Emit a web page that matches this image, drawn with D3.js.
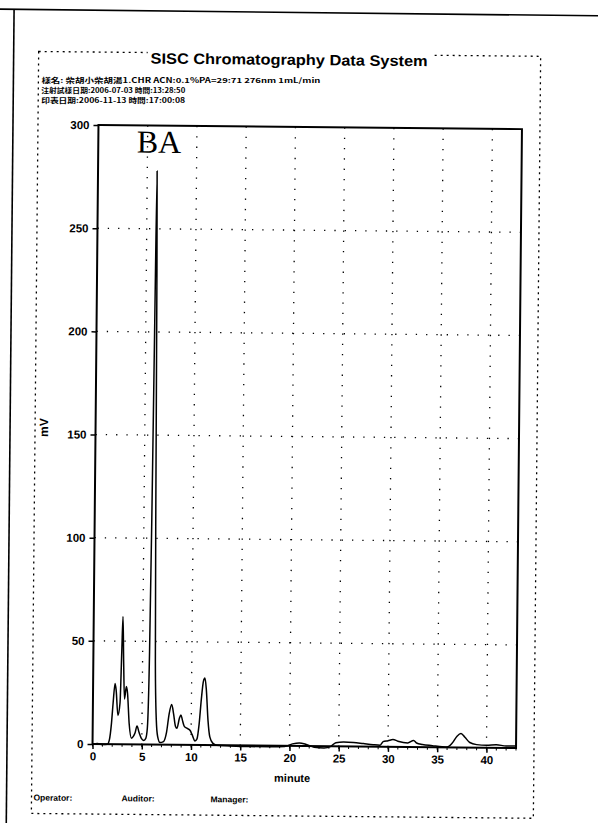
<!DOCTYPE html>
<html><head><meta charset="utf-8">
<script src="https://cdn.jsdelivr.net/npm/d3@7"></script>
<style>html,body{margin:0;padding:0;background:#fff}svg{display:block}</style>
</head><body>
<script>
const times = [0,0.5,1.0,1.5,1.7,1.9,2.05,2.23,2.35,2.55,2.75,2.88,2.97,3.08,3.2,3.38,3.5,3.7,3.95,4.15,4.3,4.5,4.7,4.95,5.2,5.4,5.55,5.7,5.8,5.9,6.0,6.1,6.2,6.3,6.45,6.6,6.85,7.2,7.5,7.75,8.0,8.2,8.4,8.55,8.8,8.95,9.1,9.3,9.6,9.9,10.1,10.4,10.6,10.8,11.0,11.2,11.35,11.5,11.7,11.9,12.2,12.6,14,16,18,19.5,20.3,21,21.7,22.5,23.5,24.2,24.7,25.5,26.5,27.5,28.5,29.2,29.5,30.0,30.5,31.0,32.0,32.6,32.9,33.5,34.5,35.5,36.0,36.5,37.0,37.4,37.8,38.3,39,40,41,42,43];
const values = [0,0.3,-0.2,0,2,10,20,29.5,26,14,20,45,62,40,22,28,25,10,3,4,5.5,9,6,3,2,3,8,45,110,200,278,210,110,40,12,4,1,1.5,6,15,19.5,15,9,8,13,14.5,12,9,8,7,5,2,3,10,22,31,32.5,27,12,4,1,0,-0.3,-0.5,-0.5,-0.3,1,1.5,0.8,-0.5,-0.8,0,1.8,2.2,2,1.5,1,0.8,2.5,3,3.6,2.8,2,3.2,2,1.3,0.8,0.3,0.2,2,5.5,6.8,5,2.5,1.5,1.2,1.5,1,1];
const xTicks = [0,5,10,15,20,25,30,35,40];
const yTicks = [0,50,100,150,200,250,300];
const title = "SISC Chromatography Data System";
const headerLines = ["樣名: 柴胡小柴胡湯1.CHR ACN:0.1%PA=29:71 276nm 1mL/min","注射試樣日期:2006-07-03  時間:13:28:50","印表日期:2006-11-13  時間:17:00:08"];
const footerLabels = ["Operator:","Auditor:","Manager:"];
const peakLabel = "BA";

const W=598,H=823;
const svg=d3.select("body").append("svg").attr("width",W).attr("height",H);
const g=svg.append("g").attr("transform","rotate(0.55,299,436)");
const x=d3.scaleLinear().domain([0,43]).range([95.5,519]);
const y=d3.scaleLinear().domain([0,300]).range([746,127]);
const sans="'Liberation Sans',Arial,sans-serif";

// page border lines
g.append("line").attr("x1",-10).attr("y1",12).attr("x2",620).attr("y2",13).attr("stroke","#000").attr("stroke-width",1.6);
g.append("line").attr("x1",10).attr("y1",12).attr("x2",10).attr("y2",830).attr("stroke","#000").attr("stroke-width",1.6);

// dashed outer box
g.append("rect").attr("x",35).attr("y",54).attr("width",502).attr("height",762)
 .attr("fill","none").attr("stroke","#000").attr("stroke-width",1.3).attr("stroke-dasharray","2,4");

// title
g.append("rect").attr("x",144).attr("y",50).attr("width",284).attr("height",14).attr("fill","#fff");
g.append("text").attr("x",147).attr("y",65).attr("font-family",sans).attr("font-weight","bold")
 .attr("font-size",15).attr("textLength",277).attr("lengthAdjust","spacingAndGlyphs").text(title);

// header lines (kept level so lines do not collide)
const hl=[279,144,144];
headerLines.forEach((t,i)=>{
  const yy=85.5+i*9.9;
  g.append("text").attr("x",38).attr("y",yy).attr("transform",`rotate(-0.55,38,${yy})`)
   .attr("font-family","'Noto Sans CJK TC',sans-serif")
   .attr("font-size",6.8).attr("font-weight","bold").attr("textLength",hl[i]).attr("lengthAdjust","spacingAndGlyphs").text(t);
});

// grid
g.append("g").selectAll("line").data(xTicks.filter(d=>d>0)).join("line")
 .attr("x1",d=>x(d)).attr("x2",d=>x(d)).attr("y1",y(300)).attr("y2",y(0))
 .attr("stroke","#000").attr("stroke-width",1.3).attr("stroke-dasharray","1.3,9");
g.append("g").selectAll("line").data(yTicks.filter(d=>d>0&&d<300)).join("line")
 .attr("x1",x(0)).attr("x2",x(43)).attr("y1",d=>y(d)).attr("y2",d=>y(d))
 .attr("stroke","#000").attr("stroke-width",1.3).attr("stroke-dasharray","1.3,9");

// axes
const xa=g.append("g").attr("transform",`translate(0,${y(0)})`)
 .call(d3.axisBottom(x).tickValues(xTicks).tickSize(5).tickPadding(3).tickFormat(d3.format("d")));
const ya=g.append("g").attr("transform",`translate(${x(0)},0)`)
 .call(d3.axisLeft(y).tickValues(yTicks).tickSize(5).tickPadding(4));
[xa,ya].forEach(a=>{
  a.select(".domain").remove();
  a.selectAll(".tick line").attr("stroke-width",1.5);
  a.selectAll("text").attr("font-family",sans).attr("font-weight","bold").attr("font-size",11.5).attr("fill","#000");
});
// minor x ticks
g.append("g").selectAll("line").data(d3.range(0,44,1)).join("line")
 .attr("x1",d=>x(d)).attr("x2",d=>x(d)).attr("y1",y(0)).attr("y2",y(0)+2.5).attr("stroke","#000").attr("stroke-width",1);

// frame
g.append("rect").attr("x",x(0)).attr("y",y(300)).attr("width",x(43)-x(0)).attr("height",y(0)-y(300))
 .attr("fill","none").attr("stroke","#000").attr("stroke-width",2);

// trace
const pts=times.map((t,i)=>[t,values[i]]);
g.append("path").datum(pts).attr("fill","none").attr("stroke","#000").attr("stroke-width",1.5)
 .attr("stroke-linejoin","round")
 .attr("d",d3.line().x(d=>x(d[0])).y(d=>y(d[1])).curve(d3.curveMonotoneX));

// labels
g.append("text").attr("x",134).attr("y",154).attr("font-family","'Liberation Serif','Times New Roman',serif")
 .attr("font-size",32).text(peakLabel);
g.append("text").attr("transform","translate(48,430) rotate(-90)").attr("text-anchor","middle")
 .attr("font-family",sans).attr("font-weight","bold").attr("font-size",12).text("mV");
g.append("text").attr("x",x(20.3)).attr("y",782).attr("text-anchor","middle")
 .attr("font-family",sans).attr("font-weight","bold").attr("font-size",11).text("minute");

const fx=[37,125,214];
footerLabels.forEach((t,i)=>{
  g.append("text").attr("x",fx[i]).attr("y",803).attr("font-family",sans).attr("font-weight","bold")
   .attr("font-size",8.5).text(t);
});
</script>
</body></html>
